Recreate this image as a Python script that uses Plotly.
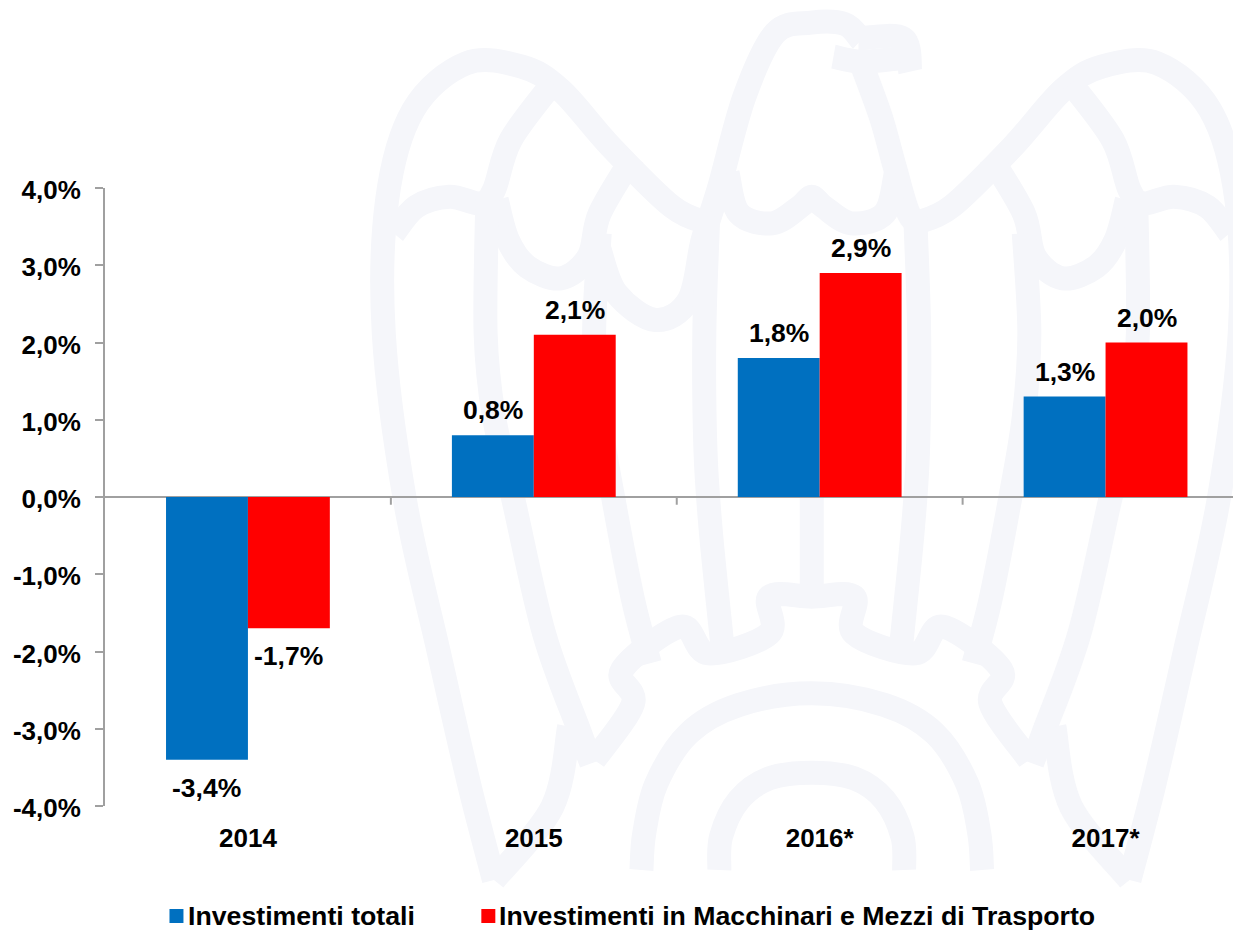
import plotly.graph_objects as go

categories = ["2014", "2015", "2016*", "2017*"]
totali = [-3.4, 0.8, 1.8, 1.3]
macchinari = [-1.7, 2.1, 2.9, 2.0]
labels_totali = ["-3,4%", "0,8%", "1,8%", "1,3%"]
labels_macchinari = ["-1,7%", "2,1%", "2,9%", "2,0%"]
y_ticks = [-4, -3, -2, -1, 0, 1, 2, 3, 4]
y_tick_labels = ["-4,0%", "-3,0%", "-2,0%", "-1,0%", "0,0%", "1,0%", "2,0%", "3,0%", "4,0%"]
series_names = ["Investimenti totali", "Investimenti in Macchinari e Mezzi di Trasporto"]

BLUE = "#0070C0"
RED = "#FF0000"
AXIS = "#A0A0A0"
WM = "#F5F6FA"
FONT = "Liberation Sans"
W, H = 1233, 930
L, R, T, B = 104.5, 0, 188, 124

# decorative watermark: outline sketch (left half mirrored), in sketch units
wm_mirrored = [
    [(240,2640),(195,2350),(140,1950),(80,1500),(42,1000),(48,600),(95,330),(190,190),(290,200),(360,270),(450,440),(560,620),(625,670)],
    [(60,700),(100,620),(160,590),(215,610),(240,570),(270,420),(345,250)],
    [(245,600),(265,720),(300,800),(360,835),(410,770),(430,640),(490,470)],
    [(228,600),(225,1000),(240,1250),(275,1500),(330,1900),(395,2200),(415,2290)],
    [(375,2180),(345,2420),(240,2640)],
    [(430,700),(420,1000),(430,1250),(455,1500),(490,1800),(520,1990)],
    [(625,650),(618,1000),(620,1350),(630,1600),(650,1930)],
]
wm_symmetric = [
    [(660,520),(680,640),(740,670),(790,620),(811,590)],
    [(420,2280),(490,2110),(470,2010),(575,1880),(625,1960),(735,1900),(735,1790),(811,1790)],
    [(505,2610),(510,2500),(532,2350),(590,2200),(680,2115),(811,2080)],
    [(645,2610),(648,2510),(680,2400),(735,2335),(811,2318)],
]
wm_single = [
    [(430,750),(460,880),(530,960),(590,900),(615,720),(645,560),(690,290),(745,100),(810,68),(870,72),(900,120)],
    [(895,115),(975,115),(988,215)],
    [(850,170),(900,185),(970,175)],
    [(900,190),(935,350),(960,500),(985,640),(1010,680)],
    [(811,1450),(811,1790)],
]


def to_paper(p):
    px = 360 + p[0] / 1.796
    py = p[1] / 3
    return px_paper(px, py)


def px_paper(px, py):
    return (px - L) / (W - L - R), 1 - (py - T) / (H - T - B)


def smooth_path(pts):
    pts = [to_paper(p) for p in pts]
    out = f"M{pts[0][0]:.5f},{pts[0][1]:.5f}"
    for i in range(len(pts) - 1):
        p0 = pts[max(i - 1, 0)]
        p1 = pts[i]
        p2 = pts[i + 1]
        p3 = pts[min(i + 2, len(pts) - 1)]
        c1 = (p1[0] + (p2[0] - p0[0]) / 6, p1[1] + (p2[1] - p0[1]) / 6)
        c2 = (p2[0] - (p3[0] - p1[0]) / 6, p2[1] - (p3[1] - p1[1]) / 6)
        out += f" C{c1[0]:.5f},{c1[1]:.5f} {c2[0]:.5f},{c2[1]:.5f} {p2[0]:.5f},{p2[1]:.5f}"
    return out


wm_paths = list(wm_single)
for path in wm_mirrored:
    wm_paths.append(path)
    wm_paths.append([(1622 - x, y) for x, y in path])
for path in wm_symmetric:
    wm_paths.append(path + [(1622 - x, y) for x, y in reversed(path[:-1])])

shapes = [
    dict(type="path", xref="paper", yref="paper", path=smooth_path(p), layer="below",
         line=dict(color=WM, width=24), fillcolor="rgba(0,0,0,0)")
    for p in wm_paths
]
# category separators on the zero line
for i in range(len(categories) - 1):
    shapes.append(dict(type="line", xref="x", yref="y", x0=i + 0.5, x1=i + 0.5, y0=0, y1=-0.1,
                       line=dict(color=AXIS, width=2)))

fig = go.Figure()
fig.add_bar(x=categories, y=totali, name=series_names[0], marker=dict(color=BLUE, line_width=0), showlegend=False)
fig.add_bar(x=categories, y=macchinari, name=series_names[1], marker=dict(color=RED, line_width=0), showlegend=False)

annotations = []
label_font = dict(family=FONT, size=26.5, color="black", weight="bold")
for vals, labs, shift in ((totali, labels_totali, -41), (macchinari, labels_macchinari, 41)):
    for i, (v, t) in enumerate(zip(vals, labs)):
        annotations.append(dict(x=i, y=v, text=t, xref="x", yref="y", showarrow=False, xshift=shift,
                                yshift=25 if v > 0 else -28, yanchor="middle", font=label_font))

# legend row
for name, color, swatch_x, text_x in ((series_names[0], BLUE, 169, 186), (series_names[1], RED, 481, 497)):
    x0, y0 = px_paper(swatch_x, 923)
    x1, y1 = px_paper(swatch_x + 14, 909)
    shapes.append(dict(type="rect", xref="paper", yref="paper", x0=x0, x1=x1, y0=y0, y1=y1,
                       fillcolor=color, line_width=0))
    tx, ty = px_paper(text_x, 916)
    annotations.append(dict(x=tx, y=ty, text=name, xref="paper", yref="paper", showarrow=False,
                            xanchor="left", yanchor="middle",
                            font=dict(family=FONT, size=26.7, color="black", weight="bold")))

tick_font = dict(family=FONT, size=26, color="black", weight="bold")
fig.update_layout(
    width=W, height=H, autosize=False,
    margin=dict(l=L, r=R, t=T, b=B, pad=0),
    paper_bgcolor="white", plot_bgcolor="rgba(0,0,0,0)",
    barmode="group", bargap=0.427, bargroupgap=0, showlegend=False,
    shapes=shapes, annotations=annotations,
    xaxis=dict(type="category", range=[-0.5, -0.5 + (W - L - R) / 286], showgrid=False, showline=False, zeroline=False,
               ticks="", tickfont=tick_font, ticklabelstandoff=14, fixedrange=True),
    yaxis=dict(range=[-4, 4], tickvals=y_ticks, ticktext=y_tick_labels, showgrid=False,
               showline=True, linecolor=AXIS, linewidth=2, ticks="outside", ticklen=8, tickwidth=2,
               tickcolor=AXIS, zeroline=True, zerolinecolor=AXIS, zerolinewidth=2,
               tickfont=tick_font, ticklabelstandoff=9, ticklabelshift=2, fixedrange=True),
)

fig.write_html("out.html", config=dict(displayModeBar=False),
               post_script="document.body.style.margin='0';document.body.style.overflow='hidden';")
